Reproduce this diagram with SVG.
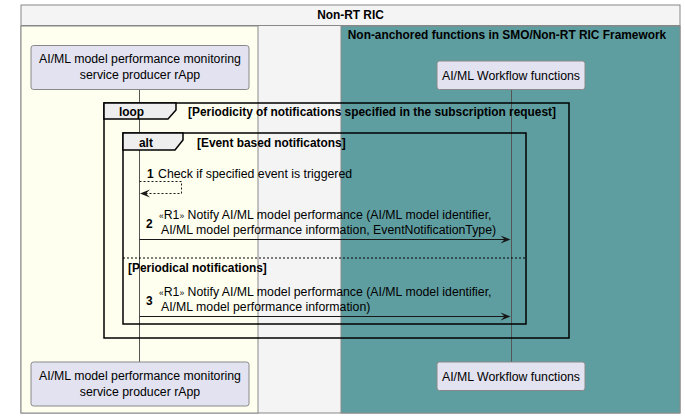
<svg xmlns="http://www.w3.org/2000/svg" width="685" height="418" viewBox="0 0 685 418">
<style>
text{font-family:"Liberation Sans",Arial,sans-serif;font-size:12.3px;fill:#000}
.b{font-weight:bold;font-size:11.9px}
.part{fill:#E2E2F0;stroke:#888;stroke-width:1}
.life{stroke:#555;stroke-width:1}
.frame{fill:none;stroke:#000;stroke-width:1.5}
.tab{fill:#EEEEEE;stroke:#000;stroke-width:1.5}
.msg{stroke:#181818;stroke-width:1;fill:none}
.head{fill:#181818}
</style>
<g id="box-nonrt">
<rect x="21" y="5" width="659" height="408" fill="#F4F4F4" stroke="#888" stroke-width="1"/>
<line x1="21" y1="25.5" x2="680" y2="25.5" stroke="#888" stroke-width="1"/>
<text class="b" x="350.5" y="19" text-anchor="middle">Non-RT RIC</text>
</g>
<g id="box-rapp">
<rect x="21" y="26" width="237" height="387" fill="#FFFFF0" stroke="#888" stroke-width="1"/>
</g>
<g id="box-nonanchored">
<rect x="341" y="26" width="339" height="387" fill="#5F9EA0" stroke="#888" stroke-width="1"/>
<text class="b" x="507" y="39" text-anchor="middle">Non-anchored functions in SMO/Non-RT RIC Framework</text>
</g>
<g id="lifelines">
<line class="life" x1="139.5" y1="89" x2="139.5" y2="362"/>
<line class="life" x1="511.5" y1="89" x2="511.5" y2="362"/>
</g>
<g id="rapp-top">
<rect class="part" x="31" y="45.5" width="218" height="44" rx="2.5"/>
<text x="140" y="63" text-anchor="middle">AI/ML model performance monitoring</text>
<text x="140" y="79" text-anchor="middle">service producer rApp</text>
</g>
<g id="wf-top">
<rect class="part" x="437" y="61" width="148" height="28.5" rx="2.5"/>
<text x="511" y="79.5" text-anchor="middle">AI/ML Workflow functions</text>
</g>
<g id="rapp-bottom">
<rect class="part" x="31" y="362" width="218" height="44" rx="2.5"/>
<text x="140" y="380" text-anchor="middle">AI/ML model performance monitoring</text>
<text x="140" y="396" text-anchor="middle">service producer rApp</text>
</g>
<g id="wf-bottom">
<rect class="part" x="437" y="362" width="148" height="28.5" rx="2.5"/>
<text x="511" y="380.5" text-anchor="middle">AI/ML Workflow functions</text>
</g>
<g id="loop">
<rect class="frame" x="104" y="103" width="465" height="235"/>
<path class="tab" d="M104,103 H176 V110 L168,119 H104 Z"/>
<text class="b" x="119" y="116">loop</text>
<text class="b" x="188" y="116">[Periodicity of notifications specified in the subscription request]</text>
</g>
<g id="alt">
<rect class="frame" x="123" y="133" width="403" height="191"/>
<path class="tab" d="M123,133 H183 V140 L175,150 H123 Z"/>
<text class="b" x="139" y="147">alt</text>
<text class="b" x="197" y="147">[Event based notificatons]</text>
<line x1="123" y1="258" x2="526" y2="258" stroke="#000" stroke-width="1" stroke-dasharray="2,2"/>
<text class="b" x="128" y="272">[Periodical notifications]</text>
</g>
<g id="connectors">
<path class="msg" d="M139.5,181.5 H181.5 V193.5 H141" stroke-dasharray="2,2"/>
<polygon class="head" points="140,193.5 150,189.5 146,193.5 150,197.5"/>
<text class="b" x="147" y="178">1</text>
<text x="158" y="178">Check if specified event is triggered</text>

<line class="msg" x1="139.5" y1="239.5" x2="508" y2="239.5"/>
<polygon class="head" points="510.5,239.5 500.5,235.5 504.5,239.5 500.5,243.5"/>
<text class="b" x="146" y="228">2</text>
<text x="159" y="219"><tspan font-size="8.5">«</tspan>R1<tspan font-size="8.5">»</tspan> Notify AI/ML model performance (AI/ML model identifier,</text>
<text x="161" y="234">AI/ML model performance information, EventNotificationType)</text>

<line class="msg" x1="139.5" y1="316.5" x2="508" y2="316.5"/>
<polygon class="head" points="510.5,316.5 500.5,312.5 504.5,316.5 500.5,320.5"/>
<text class="b" x="146" y="305">3</text>
<text x="159" y="296"><tspan font-size="8.5">«</tspan>R1<tspan font-size="8.5">»</tspan> Notify AI/ML model performance (AI/ML model identifier,</text>
<text x="161" y="311">AI/ML model performance information)</text>
</g>
</svg>
